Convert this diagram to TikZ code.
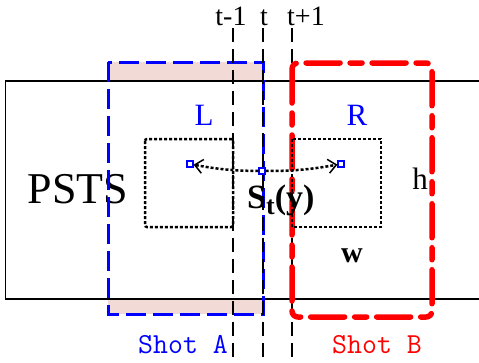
\documentclass[tikz,border=0pt]{standalone}
\usepackage{fontspec}
\setmainfont{Liberation Serif}
\usetikzlibrary{positioning,arrows.meta}
\definecolor{hatch}{RGB}{242,218,214}

\begin{document}
\begin{tikzpicture}[x=1pt,y=-1pt,
  every node/.style={inner sep=0pt},
  tline/.style={black,line width=2pt,dash pattern=on 14pt off 7pt},
  shota/.style={blue,line width=3pt,dash pattern=on 20pt off 7pt},
  shotb/.style={red,line width=5.5pt,line cap=round,line join=round,
    dash pattern=on 34pt off 10pt on 12pt off 10pt},
  win/.style={line width=2.5pt,dash pattern=on 3pt off 2pt},
  pix/.style={draw=blue,line width=1.2pt,minimum size=6pt,fill=white},
  arr/.style={-{Straight Barb[length=8pt,width=14pt,line width=1.5pt]},line width=2.5pt,
    dash pattern=on 3pt off 2pt},
  lbl/.style={font=\fontsize{31}{31}\selectfont,anchor=base},
  tlbl/.style={font=\fontsize{28}{28}\selectfont,anchor=base},
  shot/.style={font=\ttfamily\fontsize{29}{29}\selectfont,anchor=base west}
]
  \useasboundingbox (0,0) rectangle (479,362);
  % shot A strips outside the frame
  \fill[hatch] (108,62) rectangle (263,81);
  \fill[hatch] (108,299) rectangle (263,314);
  % PSTS frame
  \draw[line width=1.3pt] (479,81) -- (5.5,81) -- (5.5,299) -- (479,299);
  \node[font=\fontsize{44}{44}\selectfont,anchor=base] (psts) at (78,203) {PSTS};

  % shots
  \draw[shota] (108,62) rectangle (263,314);
  \foreach \x in {233,263,292}
    \draw[tline] (\x,28) -- (\x,362);
  \draw[shotb,rounded corners=6pt] (292,63) rectangle (432,317);

  % time labels
  \node[tlbl] (tprev) at (231,25) {t-1};
  \node[tlbl] (tcur) at (264,25) {t};
  \node[tlbl,anchor=base west] (tnext) at (287,25) {t+1};

  % search windows
  \draw[win,rounded corners=2pt] (145,139) rectangle (233,227);
  \draw[win] (292,139) rectangle (381,227);
  \node[lbl,blue] (left) at (204,125) {L};
  \node[lbl,blue] (right) at (357,125) {R};

  % pixels
  \node[pix] (pl) at (190,164) {};
  \node[pix] (pc) at (262,171) {};
  \node[pix] (pr) at (341,164) {};
  \draw[arr] (pc) to[bend left=5] (pl);
  \draw[arr] (pc) to[bend right=5] (pr);
  \node[font=\fontsize{34}{34}\selectfont\bfseries,anchor=base west] (st) at (247,208)
    {S\raisebox{-6pt}{\fontsize{26}{26}\selectfont t}(y)};

  \node[lbl] (h) at (420,189) {h};
  \node[lbl,font=\fontsize{30}{30}\selectfont\bfseries] (w) at (352,262) {w};

  \node[shot,blue] (shotA) at (138,353) {Shot A};
  \node[shot,red] (shotB) at (332,353) {Shot B};
\end{tikzpicture}
\end{document}
